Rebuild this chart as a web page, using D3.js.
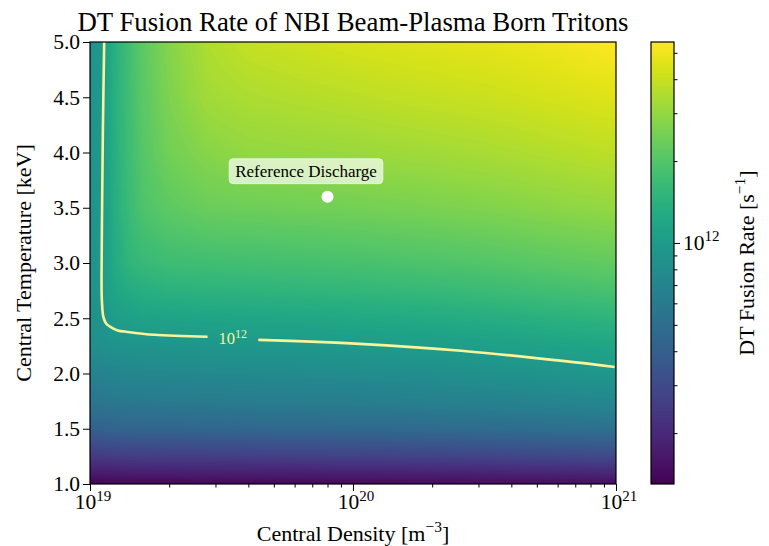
<!DOCTYPE html>
<html><head><meta charset="utf-8">
<script src="https://cdn.jsdelivr.net/npm/d3@7"></script>
<style>
body{margin:0;background:#fff}
svg{display:block}
text{font-family:"Liberation Serif","Times New Roman",serif;fill:#000}
</style>
</head><body>
<svg id="chart" width="769" height="546"></svg>
<script>
// ---------------- data ----------------
// grid of log10(density [m^-3]) (columns) and central temperature [keV] (rows)
const densityExp = [19.0, 19.04, 19.06, 19.1, 19.15, 19.2, 19.3, 19.45, 19.6, 19.8, 20.0, 20.25, 20.5, 20.75, 21.0];
const temperatureKeV = [1.0, 1.25, 1.5, 1.75, 2.0, 2.25, 2.5, 2.75, 3.0, 3.5, 4.0, 4.5, 5.0];
// log10 of DT fusion rate [s^-1], one row per temperature
const log10Rate = [
  [11.127, 11.129, 11.132, 11.135, 11.137, 11.138, 11.138, 11.142, 11.143, 11.145, 11.148, 11.153, 11.158, 11.164, 11.171],
  [11.384, 11.389, 11.394, 11.400, 11.403, 11.405, 11.408, 11.411, 11.416, 11.421, 11.426, 11.434, 11.444, 11.459, 11.472],
  [11.613, 11.618, 11.624, 11.631, 11.636, 11.637, 11.641, 11.645, 11.650, 11.657, 11.662, 11.671, 11.683, 11.699, 11.715],
  [11.745, 11.753, 11.759, 11.767, 11.772, 11.775, 11.780, 11.785, 11.792, 11.798, 11.805, 11.818, 11.831, 11.850, 11.870],
  [11.829, 11.837, 11.845, 11.855, 11.862, 11.865, 11.870, 11.876, 11.883, 11.891, 11.899, 11.914, 11.930, 11.953, 11.975],
  [11.918, 11.928, 11.936, 11.946, 11.953, 11.957, 11.962, 11.969, 11.975, 11.983, 11.993, 12.008, 12.026, 12.048, 12.073],
  [11.927, 11.951, 11.983, 12.016, 12.032, 12.048, 12.053, 12.061, 12.068, 12.078, 12.086, 12.102, 12.120, 12.146, 12.170],
  [11.935, 11.972, 12.016, 12.073, 12.105, 12.130, 12.151, 12.159, 12.165, 12.175, 12.183, 12.200, 12.217, 12.243, 12.268],
  [11.940, 11.979, 12.029, 12.113, 12.178, 12.203, 12.232, 12.240, 12.247, 12.256, 12.265, 12.281, 12.299, 12.325, 12.349],
  [11.943, 11.982, 12.037, 12.138, 12.219, 12.284, 12.333, 12.370, 12.377, 12.386, 12.395, 12.411, 12.429, 12.455, 12.479],
  [11.943, 11.983, 12.040, 12.146, 12.235, 12.308, 12.390, 12.447, 12.474, 12.484, 12.492, 12.508, 12.526, 12.552, 12.577],
  [11.943, 11.983, 12.040, 12.151, 12.243, 12.320, 12.422, 12.512, 12.536, 12.552, 12.568, 12.590, 12.607, 12.633, 12.658],
  [11.943, 11.983, 12.040, 12.154, 12.248, 12.330, 12.438, 12.544, 12.593, 12.617, 12.642, 12.658, 12.674, 12.698, 12.739]
];
// 10^12 s^-1 contour (log10 density, temperature)
const contourDensityExp = [19.054, 19.049, 19.046, 19.044, 19.045, 19.051, 19.062, 19.079, 19.105, 19.143, 19.244, 19.447, 19.640, 20.026, 20.411, 20.797, 20.995];
const contourTemperature = [5.0, 4.2, 3.5, 2.9, 2.67, 2.51, 2.45, 2.42, 2.39, 2.376, 2.35, 2.333, 2.304, 2.268, 2.206, 2.114, 2.059];
const contourLabelAt = [19.543, 2.318];
const contourLevelExp = 12;
// reference discharge
const refDensity = [8e19];
const refTemperature = [3.6];
const refLabel = "Reference Discharge";
// axes
const densityDomain = [1e19, 1e21];
const temperatureDomain = [1.0, 5.0];
const temperatureTicks = [1.0, 1.5, 2.0, 2.5, 3.0, 3.5, 4.0, 4.5, 5.0];
const colorbarLimits = [1.30e11, 5.48e12];
const titleText = "DT Fusion Rate of NBI Beam-Plasma Born Tritons";
const xLabelText = ["Central Density [m", "\u22123", "]"];
const yLabelText = "Central Temperature [keV]";
const cbLabelText = ["DT Fusion Rate [s", "\u22121", "]"];

// ---------------- layout ----------------
const P = {l: 90, r: 616, t: 42, b: 484};
const CB = {l: 651, r: 674};
const LABEL_FONT = 22, TICK_FONT = 21.5, SUP_FONT = 15;
const svg = d3.select("#chart");

const x = d3.scaleLog().domain(densityDomain).range([P.l, P.r]);
const y = d3.scaleLinear().domain(temperatureDomain).range([P.b, P.t]);
const cbScale = d3.scaleLog().domain(colorbarLimits).range([P.b, P.t]);
const lo = Math.log10(colorbarLimits[0]), hi = Math.log10(colorbarLimits[1]);
const colorOf = L => d3.rgb(d3.interpolateViridis(Math.max(0, Math.min(1, (L - lo) / (hi - lo)))));

function clamp(v, a, b) { return Math.max(a, Math.min(b, v)); }
function sample(e, T) {
  const i = clamp(d3.bisectRight(densityExp, e) - 1, 0, densityExp.length - 2);
  const j = clamp(d3.bisectRight(temperatureKeV, T) - 1, 0, temperatureKeV.length - 2);
  const fx = clamp((e - densityExp[i]) / (densityExp[i + 1] - densityExp[i]), 0, 1);
  const fy = clamp((T - temperatureKeV[j]) / (temperatureKeV[j + 1] - temperatureKeV[j]), 0, 1);
  const a = log10Rate[j][i] * (1 - fx) + log10Rate[j][i + 1] * fx;
  const b = log10Rate[j + 1][i] * (1 - fx) + log10Rate[j + 1][i + 1] * fx;
  return a * (1 - fy) + b * fy;
}
function powerLabel(sel, exp, sup, shift) {
  sel.append("tspan").text("10");
  sel.append("tspan").attr("dy", -shift).style("font-size", sup + "px").text(String(exp));
}

// heatmap
{
  const w = P.r - P.l, h = P.b - P.t;
  const cv = document.createElement("canvas");
  cv.width = w; cv.height = h;
  const ctx = cv.getContext("2d");
  const img = ctx.createImageData(w, h);
  for (let py = 0; py < h; py++) {
    const T = y.invert(P.t + py + 0.5);
    for (let px = 0; px < w; px++) {
      const e = Math.log10(x.invert(P.l + px + 0.5));
      const c = colorOf(sample(e, T));
      const k = (py * w + px) * 4;
      img.data[k] = c.r; img.data[k + 1] = c.g; img.data[k + 2] = c.b; img.data[k + 3] = 255;
    }
  }
  ctx.putImageData(img, 0, 0);
  svg.append("image").attr("x", P.l).attr("y", P.t).attr("width", w).attr("height", h)
    .attr("preserveAspectRatio", "none").attr("href", cv.toDataURL());
}

// contour line (split around its label)
{
  const pts = contourDensityExp.map((e, i) => [e, contourTemperature[i]]);
  const seg1 = pts.filter(p => p[0] <= 19.45 || p[1] > 2.4);
  const seg2 = pts.filter(p => p[0] >= 19.6 && p[1] < 2.4);
  const line = d3.line().x(p => x(Math.pow(10, p[0]))).y(p => y(p[1])).curve(d3.curveCatmullRom);
  [seg1, seg2].forEach(s => svg.append("path").attr("d", line(s)).attr("fill", "none")
    .attr("stroke", "#fbf39a").attr("stroke-width", 2.6));
  const t = svg.append("text").attr("x", x(Math.pow(10, contourLabelAt[0])))
    .attr("y", y(contourLabelAt[1]) + 6).attr("text-anchor", "middle")
    .style("font-size", "16.5px").style("fill", "#fbf39a");
  powerLabel(t, contourLevelExp, 12, 6);
}

// frame
svg.append("rect").attr("x", P.l).attr("y", P.t).attr("width", P.r - P.l).attr("height", P.b - P.t)
  .attr("fill", "none").attr("stroke", "#000").attr("stroke-width", 1.2);

// reference discharge
{
  const px = x(refDensity[0]), py = y(refTemperature[0]);
  svg.append("circle").attr("cx", px).attr("cy", py).attr("r", 6).attr("fill", "#fff");
  const g = svg.append("g");
  const t = g.append("text").attr("x", px - 21.5).attr("y", py - 20).attr("text-anchor", "middle")
    .style("font-size", "17px").text(refLabel);
  const bb = t.node().getBBox();
  g.insert("rect", "text").attr("x", bb.x - 6).attr("y", bb.y - 3).attr("width", bb.width + 12)
    .attr("height", bb.height + 6).attr("rx", 4).attr("fill", "#fff").attr("fill-opacity", 0.68)
    .attr("stroke", "#fff").attr("stroke-opacity", 0.6);
}

// x axis
{
  const all = x.ticks();
  const major = all.filter(v => Math.abs(Math.log10(v) - Math.round(Math.log10(v))) < 1e-9);
  const minor = all.filter(v => !major.includes(v));
  const g1 = svg.append("g").attr("transform", `translate(0,${P.b})`)
    .call(d3.axisBottom(x).tickValues(minor).tickSize(3.5).tickFormat(""));
  g1.select(".domain").remove();
  const g2 = svg.append("g").attr("transform", `translate(0,${P.b})`)
    .call(d3.axisBottom(x).tickValues(major).tickSize(7).tickFormat(""));
  g2.select(".domain").remove();
  svg.selectAll(".tick line").attr("stroke", "#000");
  major.forEach(v => {
    const t = svg.append("text").attr("x", x(v) + 3).attr("y", 509)
      .attr("text-anchor", "middle").style("font-size", TICK_FONT + "px");
    powerLabel(t, Math.round(Math.log10(v)), SUP_FONT, 8.5);
  });
  const lab = svg.append("text").attr("x", (P.l + P.r) / 2).attr("y", 541).attr("text-anchor", "middle")
    .style("font-size", LABEL_FONT + "px");
  lab.append("tspan").text(xLabelText[0]);
  lab.append("tspan").attr("dy", -9).style("font-size", "15.5px").text(xLabelText[1]);
  lab.append("tspan").attr("dy", 9).text(xLabelText[2]);
}

// y axis
{
  const g = svg.append("g").attr("transform", `translate(${P.l},0)`)
    .call(d3.axisLeft(y).tickValues(temperatureTicks).tickSize(7).tickPadding(3).tickFormat(d3.format(".1f")));
  g.select(".domain").remove();
  g.selectAll(".tick line").attr("stroke", "#000");
  g.selectAll(".tick text").style("font-size", TICK_FONT + "px")
    .style("font-family", '"Liberation Serif",serif').attr("fill", "#000");
  svg.append("text").attr("transform", `translate(31,${(P.t + P.b) / 2}) rotate(-90)`)
    .attr("text-anchor", "middle").style("font-size", LABEL_FONT + "px").text(yLabelText);
}

// colorbar
{
  const h = P.b - P.t;
  const cv = document.createElement("canvas");
  cv.width = 1; cv.height = h;
  const ctx = cv.getContext("2d");
  const img = ctx.createImageData(1, h);
  for (let py = 0; py < h; py++) {
    const c = colorOf(Math.log10(cbScale.invert(P.t + py + 0.5)));
    img.data[py * 4] = c.r; img.data[py * 4 + 1] = c.g; img.data[py * 4 + 2] = c.b; img.data[py * 4 + 3] = 255;
  }
  ctx.putImageData(img, 0, 0);
  svg.append("image").attr("x", CB.l).attr("y", P.t).attr("width", CB.r - CB.l).attr("height", h)
    .attr("preserveAspectRatio", "none").attr("href", cv.toDataURL());
  svg.append("rect").attr("x", CB.l).attr("y", P.t).attr("width", CB.r - CB.l).attr("height", h)
    .attr("fill", "none").attr("stroke", "#000").attr("stroke-width", 1.2);
  const all = cbScale.ticks();
  const major = all.filter(v => Math.abs(Math.log10(v) - Math.round(Math.log10(v))) < 1e-9);
  const minor = all.filter(v => !major.includes(v));
  const gm = svg.append("g").attr("transform", `translate(${CB.r},0)`)
    .call(d3.axisRight(cbScale).tickValues(minor).tickSize(3.5).tickFormat(""));
  gm.select(".domain").remove();
  const gM = svg.append("g").attr("transform", `translate(${CB.r},0)`)
    .call(d3.axisRight(cbScale).tickValues(major).tickSize(6).tickFormat(""));
  gM.select(".domain").remove();
  svg.selectAll(".tick line").attr("stroke", "#000");
  major.forEach(v => {
    const t = svg.append("text").attr("x", CB.r + 9).attr("y", cbScale(v) + 7).style("font-size", TICK_FONT + "px");
    powerLabel(t, Math.round(Math.log10(v)), SUP_FONT, 8.5);
  });
  const lab = svg.append("text").attr("transform", `translate(754,${(P.t + P.b) / 2}) rotate(-90)`)
    .attr("text-anchor", "middle").style("font-size", LABEL_FONT + "px");
  lab.append("tspan").text(cbLabelText[0]);
  lab.append("tspan").attr("dy", -9).style("font-size", "15.5px").text(cbLabelText[1]);
  lab.append("tspan").attr("dy", 9).text(cbLabelText[2]);
}

// title
svg.append("text").attr("x", (P.l + P.r) / 2).attr("y", 31).attr("text-anchor", "middle")
  .style("font-size", "26.8px").text(titleText);
</script>
</body></html>
